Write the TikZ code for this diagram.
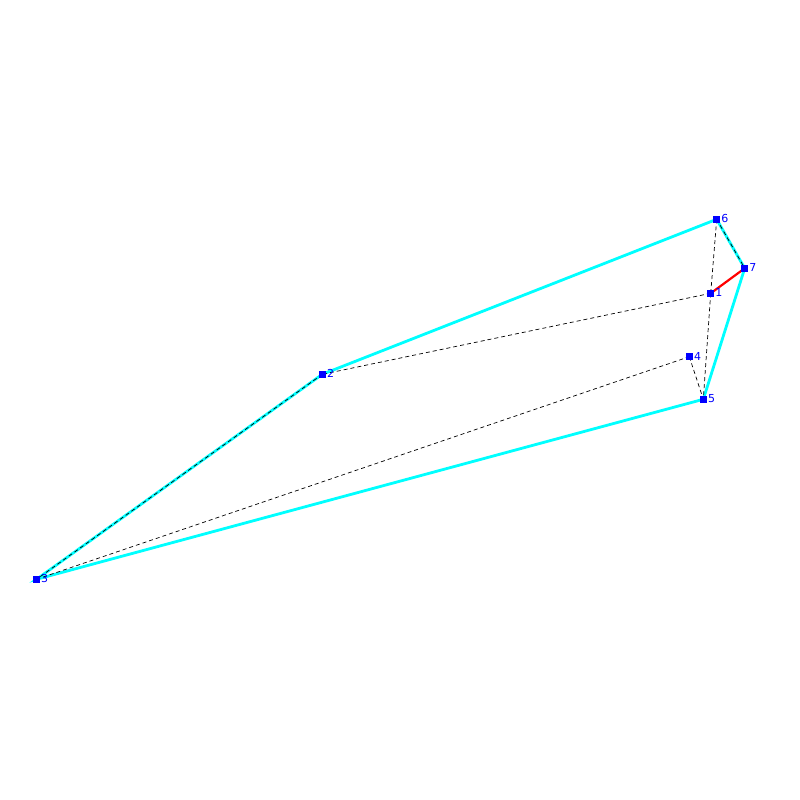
\documentclass[tikz,border=0pt]{standalone}
\usepackage{fontspec}
\setmainfont{DejaVu Sans}
\definecolor{hullcyan}{RGB}{0,255,255}
\definecolor{ptblue}{RGB}{0,0,255}
\definecolor{cutred}{RGB}{255,0,0}
\begin{document}
\begin{tikzpicture}[x=1pt,y=-1pt,
  pt/.style={fill=ptblue, minimum size=7.5pt, inner sep=0pt, outer sep=0pt},
  lab/.style={text=ptblue, font=\fontsize{11}{11}\selectfont, inner sep=0pt, anchor=west},
  hull/.style={hullcyan, line width=2.8pt},
  tri/.style={black, line width=0.7pt, dash pattern=on 4pt off 3pt},
  cut/.style={cutred, line width=2.2pt}]
\useasboundingbox (0,0) rectangle (800,800);
\coordinate (p1) at (710.7,293.3);
\coordinate (p2) at (322.3,374.3);
\coordinate (p3) at (36.5,579.3);
\coordinate (p4) at (689.3,356.7);
\coordinate (p5) at (703.3,399.3);
\coordinate (p6) at (716.7,219.3);
\coordinate (p7) at (744.7,268.3);
\draw[hull] (p6) -- (p7) -- (p5) -- (p3) -- (p2) -- cycle;
\draw[tri] (p6) -- (p1);
\draw[tri] (p1) -- (p2);
\draw[tri] (p1) -- (p5);
\draw[tri] (p4) -- (p5);
\draw[tri] (p3) -- (p4);
\draw[tri] (p2) -- (p3);
\draw[tri] (p6) -- (p7);
\draw[cut] (p1) -- (p7);
\foreach \i in {1,...,7} {
  \node[pt] (n\i) at (p\i) {};
  \node[lab] (l\i) at ([xshift=4.5pt,yshift=0.5pt]p\i) {\i};
}
\end{tikzpicture}
\end{document}
